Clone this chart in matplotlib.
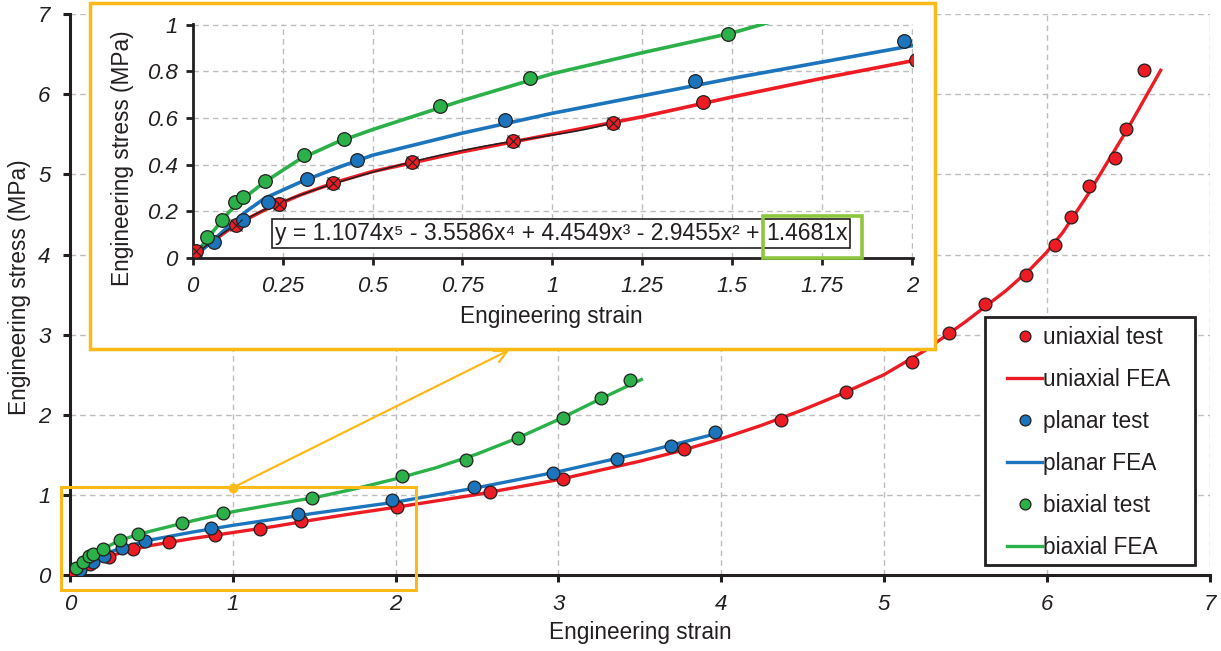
import numpy as np
import matplotlib.pyplot as plt
from matplotlib.patches import Rectangle

plt.rcParams['font.family'] = ['Liberation Sans', 'DejaVu Sans']

# test points (engineering strain, engineering stress in MPa)
uni_x = [0.01, 0.12, 0.24, 0.39, 0.61, 0.89, 1.17, 1.42, 2.01, 2.58, 3.03, 3.77, 4.37, 4.77,
         5.17, 5.40, 5.62, 5.87, 6.05, 6.15, 6.26, 6.42, 6.49, 6.60]
uni_y = [0.03, 0.14, 0.23, 0.32, 0.41, 0.50, 0.58, 0.67, 0.85, 1.03, 1.20, 1.57, 1.94, 2.28,
         2.66, 3.02, 3.38, 3.75, 4.12, 4.47, 4.85, 5.21, 5.57, 6.30]
planar_x = [0.06, 0.139, 0.21, 0.318, 0.458, 0.867, 1.398, 1.977, 2.48, 2.97, 3.36, 3.69, 3.96]
planar_y = [0.067, 0.16, 0.24, 0.34, 0.42, 0.59, 0.76, 0.93, 1.10, 1.27, 1.45, 1.61, 1.78]
biax_x = [0.039, 0.081, 0.118, 0.141, 0.20, 0.31, 0.42, 0.689, 0.939, 1.488, 2.04, 2.43,
          2.75, 3.03, 3.26, 3.44]
biax_y = [0.09, 0.16, 0.24, 0.26, 0.33, 0.44, 0.51, 0.65, 0.77, 0.96, 1.23, 1.44,
          1.71, 1.96, 2.21, 2.43]

# FEA curves
uni_fea_x = [0, 0.05, 0.1, 0.15, 0.2, 0.3, 0.4, 0.5, 0.75, 1.0, 1.25, 1.5, 1.75, 2.0, 2.5,
             3.0, 3.5, 3.75, 4.0, 4.25, 4.5, 4.75, 5.0, 5.25, 5.5, 5.75, 5.9, 6.0, 6.1, 6.25,
             6.5, 6.7]
uni_fea_y = [0, 0.065, 0.12, 0.165, 0.205, 0.27, 0.325, 0.37, 0.455, 0.53, 0.605, 0.69, 0.77,
             0.845, 1.005, 1.19, 1.42, 1.55, 1.70, 1.87, 2.06, 2.27, 2.50, 2.80, 3.16, 3.55,
             3.82, 4.03, 4.28, 4.74, 5.58, 6.30]
planar_fea_x = [0, 0.05, 0.1, 0.15, 0.2, 0.25, 0.3, 0.4, 0.5, 0.75, 1.0, 1.25, 1.5, 1.75, 2.0,
                2.5, 3.0, 3.5, 4.0]
planar_fea_y = [0, 0.065, 0.135, 0.2, 0.255, 0.29, 0.325, 0.385, 0.44, 0.535, 0.62, 0.695,
                0.77, 0.84, 0.91, 1.09, 1.29, 1.52, 1.78]
biax_fea_x = [0, 0.05, 0.1, 0.15, 0.2, 0.3, 0.4, 0.5, 0.6, 0.75, 1.0, 1.25, 1.5, 1.75, 2.0,
              2.25, 2.5, 2.75, 3.0, 3.25, 3.51]
biax_fea_y = [0, 0.10, 0.195, 0.265, 0.325, 0.425, 0.495, 0.55, 0.60, 0.675, 0.79, 0.88,
              0.965, 1.075, 1.20, 1.34, 1.51, 1.71, 1.94, 2.19, 2.44]

# polynomial trendline on the uniaxial test (coefficients from the label, x^5 .. x^0)
trend_coef = [1.1074, -3.5586, 4.4549, -2.9455, 1.4681, 0]
trend_end = 1.17
eq_text = 'y = 1.1074x\u2075 - 3.5586x\u2074 + 4.4549x\u00b3 - 2.9455x\u00b2 + '
eq_last = '1.4681x'

red = '#ED1C24'
blue = '#1C75BC'
green = '#2BB04A'
yellow = '#FBBA18'
lime = '#8DC63F'
ink = '#231F20'
gridc = '#BDBDBD'

FS = 16.3
W, H = 1221, 651
fig = plt.figure(figsize=(W / 100, H / 100), dpi=100)


def px(x0, y0, x1, y1):
    # pixel box (top-left origin) -> figure fraction rect
    return [x0 / W, (H - y1) / H, (x1 - x0) / W, (y1 - y0) / H]


def draw_data(a, ms, lw):
    a.plot(uni_fea_x, uni_fea_y, color=red, lw=lw, zorder=3, label='uniaxial FEA')
    a.plot(planar_fea_x, planar_fea_y, color=blue, lw=lw, zorder=3, label='planar FEA')
    a.plot(biax_fea_x, biax_fea_y, color=green, lw=lw, zorder=3, label='biaxial FEA')
    kw = dict(ls='none', marker='o', ms=ms, mec=ink, mew=0.9, zorder=4)
    a.plot(uni_x, uni_y, mfc=red, label='uniaxial test', **kw)
    a.plot(planar_x, planar_y, mfc=blue, label='planar test', **kw)
    a.plot(biax_x, biax_y, mfc=green, label='biaxial test', **kw)


def style_axes(a, lw, fs):
    for s in ['top', 'right']:
        a.spines[s].set_visible(False)
    for s in ['left', 'bottom']:
        a.spines[s].set_linewidth(lw)
        a.spines[s].set_color(ink)
    a.grid(True, ls=(0, (4, 3)), color=gridc, lw=1)
    a.set_axisbelow(True)
    a.tick_params(length=5, width=lw, color=ink, labelsize=fs, labelcolor=ink)
    for t in a.get_xticklabels() + a.get_yticklabels():
        t.set_fontstyle('italic')


# main chart
ax = fig.add_axes(px(70, 14, 1210, 575))
draw_data(ax, 9.2, 2.4)
ax.set_xlim(0, 7.003)
ax.set_ylim(0, 7.003)
ax.set_xticks(range(8))
ax.set_yticks(range(8))
style_axes(ax, 2.2, 16)
ax.tick_params(axis='x', pad=9)
ax.tick_params(axis='y', pad=9)

fig.text(640 / W, 1 - 633 / H, 'Engineering strain', ha='center', va='center',
         fontsize=FS, color=ink)
fig.text(20 / W, 1 - 287 / H, 'Engineering stress (MPa)', ha='center', va='center',
         rotation=90, fontsize=FS, color=ink)

# zoom box + arrow
ax.add_patch(Rectangle((-0.055, -0.19), 2.18, 1.29, fill=False, ec=yellow, lw=2.2,
                       clip_on=False, zorder=6))
ax.annotate('', xy=(2.70, 2.81), xytext=(1.0, 1.09),
            arrowprops=dict(arrowstyle='->', color=yellow, lw=1.6, mutation_scale=22,
                            shrinkA=0, shrinkB=0), zorder=6)
ax.plot([1.0], [1.09], 'o', color=yellow, ms=6, clip_on=False, zorder=6)

# legend (frame drawn separately)
ax.add_patch(Rectangle((985 / W, 1 - 565 / H), 210 / W, 248 / H, transform=fig.transFigure,
                       fc='white', ec=ink, lw=2, clip_on=False, zorder=4.5))
h, l = ax.get_legend_handles_labels()
order = ['uniaxial test', 'uniaxial FEA', 'planar test', 'planar FEA', 'biaxial test',
         'biaxial FEA']
hs = [h[l.index(o)] for o in order]
leg = ax.legend(hs, order, loc='upper left', bbox_to_anchor=(1007 / W, 1 - 326 / H),
                bbox_transform=fig.transFigure, borderaxespad=0, frameon=False,
                fontsize=FS, handlelength=1.55, handletextpad=0.05,
                labelspacing=0.84, borderpad=0, markerscale=0.85)
leg.set_zorder(5)
for t in leg.get_texts():
    t.set_color(ink)

# inset
frame = Rectangle((90 / W, 1 - 349 / H), 845 / W, 346 / H, transform=fig.transFigure,
                  fc='white', ec=yellow, lw=2.5, zorder=1)
fig.add_artist(frame)

axi = fig.add_axes(px(192.7, 24.3, 912.7, 257.7), zorder=2)
axi.patch.set_alpha(0)
draw_data(axi, 9.8, 2.6)
tx = np.linspace(0, trend_end, 120)
axi.plot(tx, np.polyval(trend_coef, tx), color=ink, lw=1.1, zorder=3.5)
n_x = sum(1 for v in uni_x if v <= trend_end)
axi.plot(uni_x[:n_x], uni_y[:n_x], ls='none', marker='x', ms=9, mec=ink, mew=0.8, zorder=5)
axi.set_xlim(0, 2.002)
axi.set_ylim(0, 1.002)
axi.set_xticks(np.arange(0, 2.01, 0.25))
axi.set_xticklabels(['0', '0.25', '0.5', '0.75', '1', '1.25', '1.5', '1.75', '2'])
axi.set_yticks(np.arange(0, 1.01, 0.2))
axi.set_yticklabels(['0', '0.2', '0.4', '0.6', '0.8', '1'])
style_axes(axi, 2, 16)
axi.tick_params(axis='x', pad=8)
axi.tick_params(axis='y', pad=6)

fig.text(551 / W, 1 - 316 / H, 'Engineering strain', ha='center', va='center',
         fontsize=FS, color=ink, zorder=3)
fig.text(123 / W, 1 - 158 / H, 'Engineering stress (MPa)', ha='center', va='center',
         rotation=90, fontsize=FS, color=ink, zorder=3)

# equation with boxes
ey = 1 - 233.5 / H
t1 = fig.text(275 / W, ey, eq_text, ha='left', va='center', fontsize=16.5, color=ink,
              zorder=6)
fig.canvas.draw()
r = fig.canvas.get_renderer()
b1 = t1.get_window_extent(r)
t2 = fig.text(b1.x1 / W, ey, eq_last, ha='left', va='center', fontsize=16.5, color=ink,
              zorder=6)
fig.canvas.draw()
b2 = t2.get_window_extent(r)
bx0, bx1 = b1.x0 - 3, b2.x1 + 3
by0, by1 = (H - 248), (H - 219)
fig.add_artist(Rectangle((bx0 / W, by0 / H), (bx1 - bx0) / W, (by1 - by0) / H,
                         transform=fig.transFigure, fc='white', ec=ink, lw=1.2, zorder=5))
fig.add_artist(Rectangle(((b2.x0 - 3) / W, (by0 - 9.5) / H), (bx1 + 12 - b2.x0 + 3) / W,
                         (by1 - by0 + 13) / H, transform=fig.transFigure, fill=False,
                         ec=lime, lw=2.6, zorder=6))

fig.savefig('out.png', dpi=100)
